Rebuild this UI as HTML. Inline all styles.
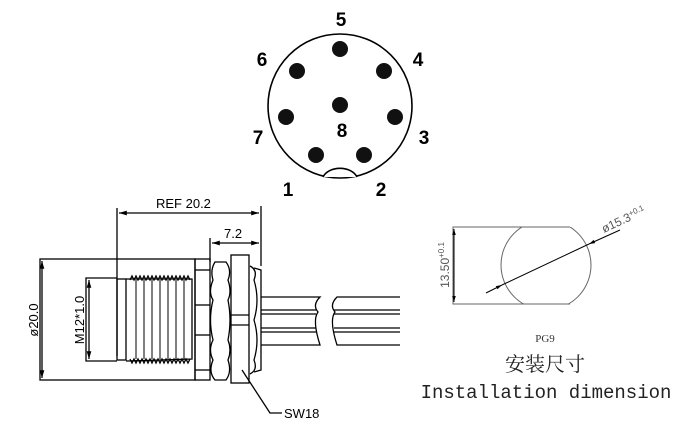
<!DOCTYPE html>
<html><head><meta charset="utf-8"><style>body{margin:0;background:#fff}svg{display:block}</style></head>
<body>
<svg width="680" height="440" viewBox="0 0 680 440" xmlns="http://www.w3.org/2000/svg" font-family="Liberation Sans, sans-serif">
<defs>
<marker id="a" viewBox="0 0 10 10" refX="10" refY="5" markerWidth="8" markerHeight="6" orient="auto-start-reverse"><path d="M0,2 L10,5 L0,8z" fill="#000"/></marker>
<clipPath id="cl"><rect x="440" y="227" width="200" height="77"/></clipPath>
</defs>
<!-- pin face -->
<circle cx="340" cy="106" r="72" fill="none" stroke="#000" stroke-width="1.6"/>
<path d="M323,177 A18,13 0 0 1 357,177" fill="#fff" stroke="#000" stroke-width="1.6"/>
<g fill="#111">
<circle cx="340" cy="49" r="8"/><circle cx="384" cy="71" r="8"/><circle cx="297" cy="71" r="8"/>
<circle cx="286" cy="117" r="8"/><circle cx="340" cy="105" r="8"/><circle cx="395" cy="117" r="8"/>
<circle cx="316" cy="155" r="8"/><circle cx="364" cy="155" r="8"/>
</g>
<g font-size="19" font-weight="bold" text-anchor="middle">
<text x="341" y="26">5</text><text x="418" y="66">4</text><text x="262" y="66">6</text>
<text x="258" y="144">7</text><text x="342" y="137">8</text><text x="424" y="144">3</text>
<text x="288" y="196">1</text><text x="381" y="196">2</text>
</g>
<!-- side view -->
<g fill="none" stroke="#000" stroke-width="1.3">
<line x1="117" y1="208" x2="117" y2="356"/><line x1="261" y1="206" x2="261" y2="266"/>
<line x1="119" y1="213" x2="259" y2="213" marker-start="url(#a)" marker-end="url(#a)"/>
<line x1="210" y1="238" x2="210" y2="262"/>
<line x1="212" y1="243" x2="259" y2="243" marker-start="url(#a)" marker-end="url(#a)"/>
<rect x="40" y="259" width="155" height="121"/>
<line x1="42" y1="261" x2="42" y2="378" marker-start="url(#a)" marker-end="url(#a)"/>
<polyline points="117,278 86,278 86,361 117,361"/>
<line x1="89" y1="280" x2="89" y2="359" marker-start="url(#a)" marker-end="url(#a)"/>
<rect x="117" y="279" width="9" height="81"/>
<path d="M126,279 L192,279 L192,359 L126,361"/>
<path d="M130,280 l2,-4 l2,4 l2,-4 l2,4 l2,-4 l2,4 l2,-4 l2,4 l2,-4 l2,4 l2,-4 l2,4 l2,-4 l2,4 l2,-4 l2,4 l2,-4 l2,4 l2,-4 l2,4 l2,-4 l2,4 l2,-4 l2,4 l2,-4 l2,4 l2,-4 l2,4 l2,-4 l2,4"/>
<path d="M130,359 l2,4 l2,-4 l2,4 l2,-4 l2,4 l2,-4 l2,4 l2,-4 l2,4 l2,-4 l2,4 l2,-4 l2,4 l2,-4 l2,4 l2,-4 l2,4 l2,-4 l2,4 l2,-4 l2,4 l2,-4 l2,4 l2,-4 l2,4 l2,-4 l2,4 l2,-4 l2,4 l2,-4"/>
<g stroke-width="1"><line x1="136" y1="280" x2="136" y2="359"/><line x1="144" y1="280" x2="144" y2="359"/><line x1="152" y1="280" x2="152" y2="359"/><line x1="160" y1="280" x2="160" y2="359"/><line x1="168" y1="280" x2="168" y2="359"/><line x1="176" y1="280" x2="176" y2="359"/><line x1="184" y1="280" x2="184" y2="359"/></g>
<rect x="195" y="259" width="15" height="121"/>
<line x1="195" y1="270" x2="210" y2="270"/><line x1="195" y1="305" x2="210" y2="305"/><line x1="195" y1="335" x2="210" y2="335"/><line x1="195" y1="370" x2="210" y2="370"/>
<path d="M215,262 Q210,270 213,280 Q208,292 213,300 Q208,320 213,340 Q208,350 213,360 Q208,372 215,380 L226,380 Q232,372 228,360 Q232,350 228,340 Q232,320 228,300 Q232,292 228,280 Q232,270 226,262 Z"/>
<rect x="231" y="255" width="18" height="128"/>
<line x1="231" y1="315" x2="249" y2="315"/><line x1="231" y1="325" x2="249" y2="325"/>
<path d="M250,266 Q258,270 254,280 Q260,300 254,320 Q260,340 254,360 Q258,370 250,374"/>
<path d="M254,268 L261,270 L261,370 L254,372"/>
<path d="M261,297 L320,297 Q312,305 318,312 Q312,320 320,345 L261,345"/>
<line x1="261" y1="310" x2="316" y2="310"/><line x1="261" y1="314" x2="316" y2="314"/><line x1="261" y1="328" x2="316" y2="328"/><line x1="261" y1="332" x2="316" y2="332"/>
<path d="M400,297 L337,297 Q329,305 335,312 Q329,320 337,345 L400,345"/>
<line x1="334" y1="310" x2="400" y2="310"/><line x1="334" y1="314" x2="400" y2="314"/><line x1="334" y1="328" x2="400" y2="328"/><line x1="334" y1="332" x2="400" y2="332"/>
<polyline points="242,370 270,413 282,413"/>
</g>
<g font-size="13" fill="#000">
<text x="156" y="208">REF  20.2</text>
<text x="224" y="238">7.2</text>
<text x="284" y="418">SW18</text>
<text transform="translate(38,320) rotate(-90)" text-anchor="middle">ø20.0</text>
<text transform="translate(84,320) rotate(-90)" text-anchor="middle">M12*1.0</text>
</g>
<!-- installation -->
<g fill="none" stroke="#666" stroke-width="1">
<polyline points="570,227 453,227 453,304 570,304"/>
<circle cx="546" cy="265" r="45" clip-path="url(#cl)"/>
<line x1="454" y1="229" x2="454" y2="302" stroke="#000" marker-start="url(#a)" marker-end="url(#a)"/>
<line x1="486" y1="293" x2="502" y2="285" stroke="#000" marker-end="url(#a)"/>
<line x1="502" y1="285" x2="589" y2="244" stroke="#000"/>
<line x1="620" y1="230" x2="589" y2="244" stroke="#000" marker-end="url(#a)"/>
</g>
<g fill="#555" font-size="12">
<text transform="translate(449,265) rotate(-90)" text-anchor="middle">13.50<tspan font-size="8" dy="-5">+0.1</tspan></text>
<text transform="translate(604,233) rotate(-25)">ø15.3<tspan font-size="8" dy="-4">+0.1</tspan></text>
</g>
<text x="545" y="342" text-anchor="middle" font-family="Liberation Serif, serif" font-size="11" fill="#333">PG9</text>
<text x="545" y="371" text-anchor="middle" font-family="Liberation Serif, 'Noto Serif CJK SC', serif" font-size="20" fill="#222">安装尺寸</text>
<text x="546" y="398" text-anchor="middle" font-family="Liberation Mono, monospace" font-size="19" fill="#222">Installation dimension</text>
</svg>
</body></html>
